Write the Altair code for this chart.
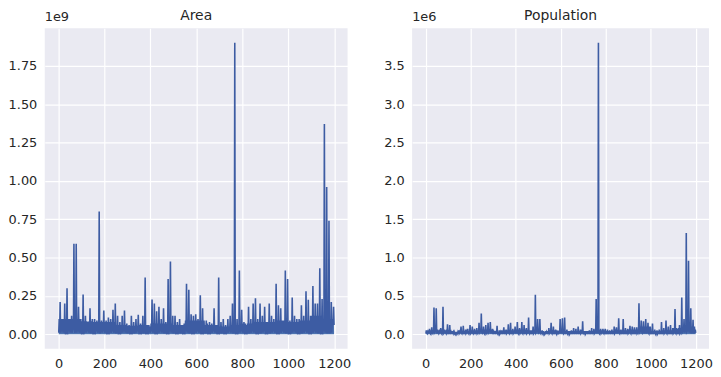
import altair as alt
import pandas as pd

# Peak value in each block of 10 rows (Area in 1e9, Population in 1e6)
area_high = [0.21, 0.10, 0.20, 0.30, 0.10, 0.12, 0.59, 0.59, 0.18, 0.10,
             0.26, 0.12, 0.08, 0.17, 0.10, 0.10, 0.09, 0.80, 0.09, 0.155,
             0.09, 0.11, 0.10, 0.16, 0.20, 0.12, 0.08, 0.12, 0.155, 0.07,
             0.06, 0.12, 0.08, 0.10, 0.128, 0.07, 0.12, 0.37, 0.06, 0.05,
             0.226, 0.20, 0.15, 0.18, 0.10, 0.17, 0.08, 0.36, 0.475, 0.12,
             0.12, 0.08, 0.10, 0.06, 0.07, 0.33, 0.29, 0.13, 0.12, 0.13,
             0.10, 0.255, 0.17, 0.06, 0.07, 0.08, 0.07, 0.17, 0.06, 0.37,
             0.08, 0.10, 0.06, 0.10, 0.12, 0.20, 1.90, 0.10, 0.415, 0.16,
             0.08, 0.06, 0.18, 0.10, 0.20, 0.235, 0.10, 0.20, 0.12, 0.18,
             0.08, 0.20, 0.12, 0.10, 0.33, 0.19, 0.17, 0.09, 0.415, 0.36,
             0.09, 0.24, 0.12, 0.10, 0.10, 0.19, 0.12, 0.28, 0.225, 0.12,
             0.315, 0.20, 0.20, 0.43, 0.23, 1.37, 0.96, 0.74, 0.21, 0.18]

area_low = [0.01, 0.02, 0.01, 0.00, 0.02, 0.01, 0.03, 0.01, 0.02, 0.01,
            0.00, 0.01, 0.02, 0.01, 0.01, 0.00, 0.02, 0.01, 0.01, 0.02,
            0.01, 0.00, 0.01, 0.02, 0.01, 0.01, 0.00, 0.01, 0.02, 0.01,
            0.01, 0.00, 0.01, 0.01, 0.02, 0.00, 0.01, 0.01, 0.00, 0.01,
            0.02, 0.01, 0.00, 0.01, 0.02, 0.01, 0.01, 0.00, 0.02, 0.01,
            0.01, 0.00, 0.01, 0.01, 0.00, 0.02, 0.01, 0.01, 0.00, 0.01,
            0.02, 0.01, 0.00, 0.01, 0.01, 0.00, 0.01, 0.02, 0.01, 0.00,
            0.01, 0.01, 0.00, 0.01, 0.02, 0.01, 0.01, 0.00, 0.01, 0.02,
            0.01, 0.00, 0.01, 0.01, 0.02, 0.01, 0.00, 0.01, 0.01, 0.02,
            0.00, 0.01, 0.01, 0.02, 0.01, 0.00, 0.01, 0.02, 0.01, 0.01,
            0.00, 0.01, 0.02, 0.01, 0.00, 0.01, 0.01, 0.02, 0.01, 0.00,
            0.01, 0.02, 0.01, 0.01, 0.00, 0.02, 0.01, 0.01, 0.01, 0.06]

# Typical level of the dense band in each block of 50 rows
area_band = [0.10, 0.10, 0.085, 0.08, 0.08, 0.06, 0.055, 0.06, 0.07, 0.07, 0.06, 0.09,
             0.09, 0.06, 0.05, 0.06, 0.07, 0.08, 0.08, 0.09, 0.08, 0.09, 0.12, 0.10]

pop_high = [0.03, 0.07, 0.09, 0.35, 0.34, 0.05, 0.08, 0.36, 0.05, 0.13,
            0.12, 0.04, 0.03, 0.03, 0.05, 0.10, 0.11, 0.06, 0.07, 0.12,
            0.10, 0.07, 0.08, 0.15, 0.27, 0.10, 0.12, 0.15, 0.16, 0.07,
            0.04, 0.11, 0.05, 0.05, 0.09, 0.06, 0.13, 0.15, 0.07, 0.10,
            0.16, 0.08, 0.16, 0.12, 0.08, 0.22, 0.05, 0.10, 0.515, 0.20,
            0.20, 0.05, 0.03, 0.03, 0.08, 0.15, 0.10, 0.06, 0.04, 0.20,
            0.21, 0.22, 0.06, 0.04, 0.05, 0.08, 0.07, 0.10, 0.06, 0.17,
            0.04, 0.04, 0.05, 0.08, 0.07, 0.46, 3.80, 0.07, 0.07, 0.07,
            0.06, 0.05, 0.06, 0.10, 0.09, 0.21, 0.06, 0.20, 0.08, 0.07,
            0.11, 0.10, 0.09, 0.09, 0.405, 0.18, 0.17, 0.20, 0.15, 0.10,
            0.14, 0.06, 0.05, 0.06, 0.16, 0.08, 0.18, 0.10, 0.12, 0.08,
            0.33, 0.07, 0.12, 0.48, 0.20, 1.32, 0.96, 0.34, 0.19, 0.06]

pop_low = [0.01, 0.02, 0.01, 0.02, 0.03, 0.01, 0.02, 0.01, 0.02, 0.01,
           0.01, 0.01, 0.01, 0.00, 0.01, 0.02, 0.01, 0.01, 0.02, 0.01,
           0.02, 0.01, 0.01, 0.02, 0.03, 0.02, 0.01, 0.02, 0.03, 0.01,
           0.01, 0.01, 0.00, 0.01, 0.01, 0.01, 0.02, 0.01, 0.01, 0.02,
           0.02, 0.01, 0.02, 0.01, 0.01, 0.02, 0.01, 0.01, 0.02, 0.03,
           0.02, 0.01, 0.00, 0.01, 0.01, 0.02, 0.01, 0.01, 0.00, 0.02,
           0.02, 0.01, 0.01, 0.00, 0.01, 0.01, 0.01, 0.01, 0.01, 0.02,
           0.00, 0.01, 0.01, 0.01, 0.01, 0.02, 0.02, 0.01, 0.02, 0.01,
           0.01, 0.01, 0.01, 0.01, 0.02, 0.02, 0.01, 0.01, 0.01, 0.01,
           0.02, 0.01, 0.01, 0.01, 0.02, 0.03, 0.02, 0.02, 0.02, 0.01,
           0.01, 0.01, 0.00, 0.01, 0.01, 0.01, 0.02, 0.01, 0.01, 0.01,
           0.02, 0.01, 0.01, 0.02, 0.03, 0.03, 0.04, 0.02, 0.02, 0.02]

pop_band = [0.05, 0.06, 0.03, 0.04, 0.05, 0.06, 0.03, 0.05, 0.06, 0.05, 0.04, 0.05,
            0.04, 0.04, 0.04, 0.05, 0.04, 0.05, 0.06, 0.10, 0.04, 0.05, 0.08, 0.10]

BIN = 10
BAND = 50


def build(high, low, band):
    rows = []
    for k, (h, l) in enumerate(zip(high, low)):
        b = band[(k * BIN) // BAND]
        rows.append({"idx": k * BIN + 1, "v": l})
        rows.append({"idx": k * BIN + 3, "v": b})
        rows.append({"idx": k * BIN + 5, "v": l})
        rows.append({"idx": k * BIN + 7, "v": h})
        rows.append({"idx": k * BIN + 9, "v": l})
    return pd.DataFrame(rows)


area_df = build(area_high, area_low, area_band)
pop_df = build(pop_high, pop_low, pop_band)

FILL = "#4C72B0"
LINE = "#3D5CA3"
FONT = "DejaVu Sans"
TXT = "#262626"


def panel(df, title, ydom, yticks, yfmt, offset_txt, w, h):
    x = alt.X("idx:Q", scale=alt.Scale(domain=[-60, 1258], nice=False, zero=False),
              axis=alt.Axis(values=[0, 200, 400, 600, 800, 1000, 1200], format="d",
                            title=None, labelFontSize=13, labelPadding=9))
    y = alt.Y("v:Q", scale=alt.Scale(domain=ydom, nice=False, zero=False),
              axis=alt.Axis(values=yticks, format=yfmt, title=None,
                            labelFontSize=13, labelPadding=8))
    base = alt.Chart(df)
    fill = base.mark_area(color=FILL, opacity=1, clip=True).encode(
        x=x, y=y, y2=alt.datum(0))
    line = base.mark_line(color=LINE, strokeWidth=1.6, clip=True).encode(x=x, y=y)
    off = alt.Chart(pd.DataFrame({"t": [offset_txt]})).mark_text(
        align="left", baseline="bottom", fontSize=13, font=FONT, color=TXT
    ).encode(x=alt.value(0), y=alt.value(-4), text="t:N")
    ttl = alt.Chart(pd.DataFrame({"t": [title]})).mark_text(
        align="center", baseline="bottom", fontSize=14, font=FONT, color=TXT
    ).encode(x=alt.value(w / 2), y=alt.value(-5), text="t:N")
    return alt.layer(fill, line, off, ttl).properties(width=w, height=h)


left = panel(area_df, "Area", [-0.095, 1.995],
             [0, 0.25, 0.5, 0.75, 1.0, 1.25, 1.5, 1.75], ".2f", "1e9", 305, 323)
right = panel(pop_df, "Population", [-0.19, 3.99],
              [0, 0.5, 1.0, 1.5, 2.0, 2.5, 3.0, 3.5], ".1f", "1e6", 299, 323)

chart = alt.hconcat(left, right, spacing=32).properties(padding=0).configure_view(
    fill="#EAEAF2", stroke=None
).configure_axis(
    grid=True, gridColor="white", gridWidth=1.2, domain=False, ticks=False,
    labelFont=FONT, labelColor=TXT,
)

chart.save("out.html", embed_options={"renderer": "svg", "actions": False})
